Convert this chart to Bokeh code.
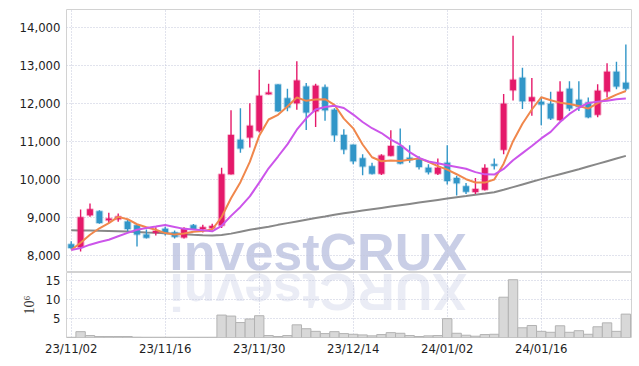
import math
from bokeh.plotting import figure
from bokeh.models import Range1d, FixedTicker, NumeralTickFormatter
from bokeh.core.properties import value
from bokeh.layouts import column
from bokeh.embed import file_html
from bokeh.resources import INLINE

# ---------------- data ----------------
dates = ["23/11/02", "23/11/03", "23/11/06", "23/11/07", "23/11/08", "23/11/09", "23/11/10",
         "23/11/13", "23/11/14", "23/11/15", "23/11/16", "23/11/17", "23/11/20", "23/11/21",
         "23/11/22", "23/11/23", "23/11/24", "23/11/27", "23/11/28", "23/11/29", "23/11/30",
         "23/12/01", "23/12/04", "23/12/05", "23/12/06", "23/12/07", "23/12/08", "23/12/11",
         "23/12/12", "23/12/13", "23/12/14", "23/12/15", "23/12/18", "23/12/19", "23/12/20",
         "23/12/21", "23/12/22", "23/12/26", "23/12/27", "23/12/28", "24/01/02", "24/01/03",
         "24/01/04", "24/01/05", "24/01/08", "24/01/09", "24/01/10", "24/01/11", "24/01/12",
         "24/01/15", "24/01/16", "24/01/17", "24/01/18", "24/01/19", "24/01/22", "24/01/23",
         "24/01/24", "24/01/25", "24/01/26", "24/01/29"]

opens = [8300, 8220, 9060, 9170, 8930, 8960, 8900, 8800, 8560, 8600,
         8710, 8610, 8480, 8800, 8700, 8720, 8790, 10140, 11040, 11100,
         11280, 12235, 12490, 12130, 12000, 12440, 11790, 12420, 11830, 11170,
         10910, 10560, 10350, 10150, 10620, 10880, 10570, 10530, 10310, 10150,
         10440, 10040, 9820, 9670, 9730, 10400, 10780, 12340, 12670, 12050,
         12040, 11990, 11560, 12380, 12090, 12020, 11700, 12310, 12830, 12540]
highs = [8380, 9210, 9370, 9190, 9130, 9110, 8950, 8830, 8690, 8750,
         8760, 8660, 8750, 8830, 8810, 8840, 10310, 11820, 11870, 12000,
         12880, 12510, 12500, 12380, 13100, 12530, 12510, 12490, 11870, 11320,
         10920, 10660, 10440, 10660, 11290, 11340, 10900, 10610, 10400, 10550,
         10900, 10100, 9910, 10040, 10400, 10550, 12240, 13770, 12930, 12660,
         12170, 12300, 12580, 12580, 12580, 12150, 12500, 13050, 13090, 13540]
lows = [8170, 8110, 9020, 8840, 8860, 8890, 8640, 8240, 8450, 8530,
        8530, 8450, 8450, 8680, 8610, 8690, 8730, 10130, 10700, 10840,
        11230, 12230, 11780, 11790, 11830, 11300, 11380, 11540, 10990, 10660,
        10400, 10110, 10130, 10120, 10610, 10400, 10440, 10260, 10130, 10120,
        9870, 9580, 9620, 9620, 9710, 10260, 10660, 12070, 11850, 11670,
        11420, 11560, 11540, 11800, 11800, 11610, 11630, 12150, 12370, 12330]
closes = [8200, 9010, 9220, 8860, 8980, 9030, 8700, 8560, 8470, 8650,
          8590, 8500, 8710, 8700, 8750, 8780, 10140, 11170, 10810, 11410,
          12200, 12280, 11790, 11890, 12600, 11760, 12460, 11820, 11160, 10790,
          10480, 10340, 10150, 10630, 10880, 10420, 10510, 10330, 10190, 10310,
          9960, 9900, 9680, 9750, 10300, 10360, 11990, 12620, 12050, 12160,
          11970, 11600, 12300, 11860, 11910, 11630, 12330, 12830, 12440, 12380]

ma5 = [8150, 8340, 8550, 8720, 8854, 9020, 8958, 8826, 8748, 8682,
       8594, 8554, 8584, 8630, 8650, 8688, 9016, 9508, 9930, 10462,
       11146, 11574, 11698, 11914, 12152, 12064, 12100, 12106, 11960, 11598,
       11342, 10918, 10584, 10478, 10496, 10484, 10518, 10554, 10466, 10352,
       10260, 10138, 10008, 9920, 9918, 9998, 10416, 11004, 11464, 11836,
       12158, 12080, 12016, 11978, 11928, 11860, 12006, 12112, 12228, 12322]
ma10 = [8150, 8200, 8290, 8360, 8420, 8510, 8600, 8680, 8730, 8768,
        8807, 8756, 8705, 8689, 8666, 8641, 8785, 9046, 9280, 9556,
        9917, 10295, 10603, 10922, 11307, 11605, 11837, 11902, 11937, 11875,
        11703, 11509, 11345, 11219, 11047, 10913, 10718, 10569, 10472, 10424,
        10372, 10328, 10281, 10193, 10135, 10129, 10277, 10506, 10692, 10877,
        11078, 11248, 11510, 11721, 11882, 12009, 12043, 12064, 12103, 12125]
ma_long = [8670, 8665, 8660, 8655, 8650, 8642, 8634, 8625, 8612, 8600,
           8588, 8575, 8562, 8550, 8540, 8532, 8545, 8580, 8630, 8680,
           8720, 8760, 8810, 8855, 8900, 8945, 8990, 9030, 9075, 9115,
           9150, 9185, 9220, 9255, 9290, 9325, 9360, 9395, 9430, 9465,
           9500, 9535, 9565, 9600, 9630, 9665, 9730, 9800, 9870, 9940,
           10010, 10075, 10140, 10205, 10270, 10340, 10410, 10480, 10550, 10620]

volume_millions = [0.05, 1.54, 0.51, 0.26, 0.26, 0.26, 0.26, 0.08, 0.06, 0.06,
                   0.06, 0.06, 0.06, 0.06, 0.06, 0.06, 5.90, 5.64, 3.93, 4.87,
                   5.73, 0.51, 0.26, 0.51, 3.33, 2.31, 1.62, 1.03, 1.54, 1.03,
                   0.85, 0.68, 0.43, 0.77, 1.28, 1.11, 0.51, 0.26, 0.43, 0.51,
                   4.96, 1.11, 0.60, 0.34, 0.77, 0.85, 10.6, 15.2, 2.56, 3.16,
                   1.62, 1.37, 3.08, 1.37, 1.79, 0.85, 2.82, 3.85, 1.62, 6.15]

tick_idx = [0, 10, 20, 30, 40, 50]
price_ticks = [8000, 9000, 10000, 11000, 12000, 13000, 14000]
volume_ticks = [5, 10, 15]
watermark = "investCRUX"

# ---------------- styles ----------------
RED = "#e5196a"
BLUE = "#3196c8"
ORANGE = "#f0874c"
MAGENTA = "#cc55ea"
GREY = "#888888"
GRID = "#c3c7da"
BORDER = "#d2d2d2"
WM_COLOR = "#c3c9e3"
TICK_FONT = "DejaVu Sans Condensed, Roboto, sans-serif"
TICK_COLOR = "#1e1e1e"
WM_X = 26.26        # horizontal centre of the watermark (bar-index units)
WM_Y_PRICE = 8087   # vertical centre of the watermark letters (price units)
WM_Y_VOL = 12.0     # vertical centre of the reflection (volume units, millions)

x = list(range(len(dates)))
colors = [RED if c >= o else BLUE for o, c in zip(opens, closes)]
tops = [max(o, c) for o, c in zip(opens, closes)]
bots = [min(o, c) for o, c in zip(opens, closes)]

XR = Range1d(-0.5, 59.6)


def style(p):
    p.outline_line_color = BORDER
    p.background_fill_color = "white"
    p.border_fill_color = "white"
    for g in (p.xgrid, p.ygrid):
        g.grid_line_color = GRID
        g.grid_line_dash = "1 2"
        g.grid_line_width = 1
    p.xgrid.ticker = FixedTicker(ticks=tick_idx)
    p.yaxis.axis_line_color = None
    p.yaxis.major_tick_line_color = None
    p.yaxis.minor_tick_line_color = None
    p.yaxis.major_tick_out = 0
    p.yaxis.major_tick_in = 0
    p.yaxis.major_label_standoff = 6
    p.yaxis.major_label_text_font = TICK_FONT
    p.yaxis.major_label_text_font_size = "13px"
    p.yaxis.major_label_text_color = TICK_COLOR


# ---------------- price panel ----------------
p1 = figure(width=639, height=272, x_range=XR, y_range=Range1d(7560, 14460),
            output_backend="svg", toolbar_location=None, x_axis_location=None,
            min_border_left=66, min_border_right=8, min_border_top=9, min_border_bottom=0)
style(p1)
p1.yaxis.ticker = FixedTicker(ticks=price_ticks)
p1.yaxis.formatter = NumeralTickFormatter(format="0,0")

p1.text(x=[WM_X], y=[WM_Y_PRICE], text=[watermark], text_align="center",
        text_baseline="middle", text_font=value("Liberation Sans"),
        text_font_style="bold", text_font_size="52px",
        text_color=WM_COLOR, text_alpha=0.9, level="underlay")

p1.line(x, ma_long, line_color=GREY, line_width=2)
p1.segment(x, highs, x, lows, line_color=colors, line_width=1.4)
p1.vbar(x=x, top=tops, bottom=bots, width=0.62, fill_color=colors,
        line_color=colors, line_alpha=0.3, line_width=2)
p1.line(x, ma5, line_color=ORANGE, line_width=2)
p1.line(x, ma10, line_color=MAGENTA, line_width=2)

# ---------------- volume panel ----------------
p2 = figure(width=639, height=94, x_range=XR, y_range=Range1d(0, 17.1),
            output_backend="svg", toolbar_location=None,
            min_border_left=66, min_border_right=8, min_border_top=0, min_border_bottom=29)
style(p2)
p2.yaxis.ticker = FixedTicker(ticks=volume_ticks)
p2.yaxis.axis_label = "10\u2076"
p2.yaxis.axis_label_text_font = "Liberation Serif"
p2.yaxis.axis_label_text_font_style = "normal"
p2.yaxis.axis_label_text_font_size = "14px"
p2.yaxis.axis_label_text_color = "#333333"
p2.yaxis.axis_label_standoff = 6

p2.xaxis.ticker = FixedTicker(ticks=tick_idx)
p2.xaxis.major_label_overrides = {i: dates[i] for i in tick_idx}
p2.xaxis.axis_line_color = None
p2.xaxis.major_tick_line_color = None
p2.xaxis.minor_tick_line_color = None
p2.xaxis.major_tick_out = 0
p2.xaxis.major_tick_in = 0
p2.xaxis.major_label_standoff = 3
p2.xaxis.major_label_text_font = TICK_FONT
p2.xaxis.major_label_text_font_size = "13px"
p2.xaxis.major_label_text_color = TICK_COLOR

# mirrored reflection of the watermark
p2.text(x=[WM_X], y=[WM_Y_VOL], text=[watermark[::-1]], angle=math.pi, text_align="center",
        text_baseline="middle", text_font=value("Liberation Sans"),
        text_font_style="bold", text_font_size="52px",
        text_color=WM_COLOR, text_alpha=0.35, level="underlay")

p2.vbar(x=x, top=volume_millions, bottom=0, width=1.0, fill_color="#d8d8d8",
        line_color="#b3b3b3", line_width=1)

layout = column(p1, p2, spacing=0)
open("out.html", "w").write(file_html(layout, INLINE))
